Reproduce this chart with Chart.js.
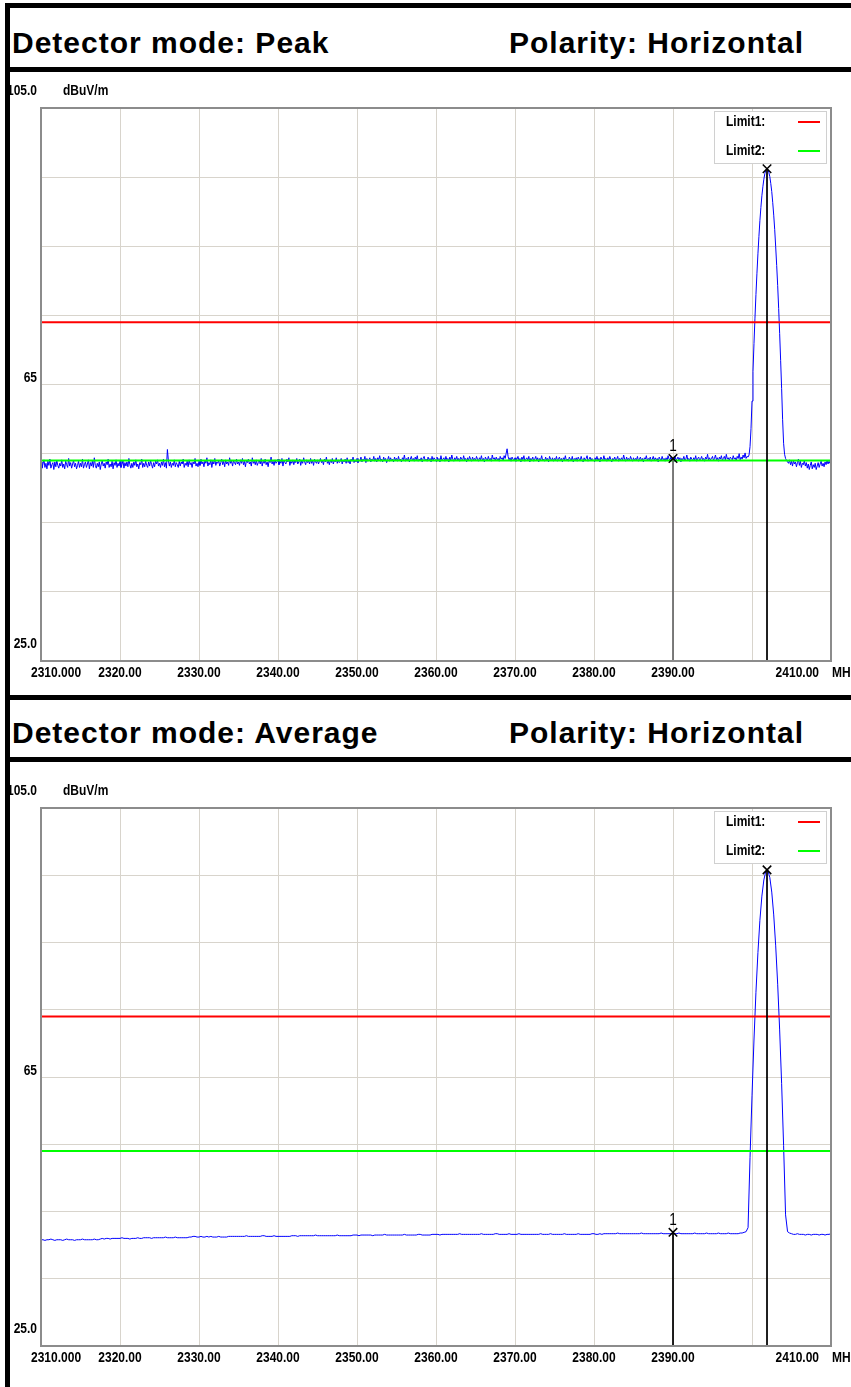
<!DOCTYPE html>
<html>
<head>
<meta charset="utf-8">
<script src="https://cdn.jsdelivr.net/npm/chart.js@4.4.1/dist/chart.umd.min.js"></script>
<style>
body { margin:0; background:#fff; width:851px; height:1387px; overflow:hidden; position:relative; }
.bar { position:absolute; background:#000; }
.head { position:absolute; font:bold 30px "Liberation Sans", Arial, sans-serif; letter-spacing:1px; line-height:30px; white-space:nowrap; color:#000; }
canvas { position:absolute; left:10px; }
</style>
</head>
<body>
<div class="bar" style="left:5px;top:3px;width:846px;height:5px"></div>
<div class="bar" style="left:5px;top:3px;width:5px;height:1384px"></div>
<div class="bar" style="left:5px;top:67px;width:846px;height:5px"></div>
<div class="bar" style="left:5px;top:695px;width:846px;height:5px"></div>
<div class="bar" style="left:5px;top:757px;width:846px;height:5px"></div>
<div class="head" style="left:12px;top:28px">Detector mode: Peak</div>
<div class="head" style="left:509px;top:28px">Polarity: Horizontal</div>
<div class="head" style="left:12px;top:718px">Detector mode: Average</div>
<div class="head" style="left:509px;top:718px">Polarity: Horizontal</div>
<canvas id="peakChart" width="841" height="623" style="top:72px"></canvas>
<canvas id="avgChart" width="841" height="625" style="top:762px"></canvas>
<script>
// both sweeps start at 2310 MHz; peak sweep every 0.125 MHz, average every 0.25 MHz
var sweepStart = 2310;
var peakStep = 0.125, avgStep = 0.25;

var peakTrace = [
  53.8, 52.9, 53.5, 54.1, 53.0, 53.6, 52.8, 53.9, 53.3, 54.2, 52.9, 53.4, 53.7, 52.7, 53.8, 53.1, 54.0, 53.3, 52.9, 53.6,
  53.2, 54.1, 53.0, 53.5, 52.8, 53.9, 53.4, 53.0, 54.3, 53.2, 53.7, 52.9, 53.5, 54.0, 53.1, 53.6, 52.8, 53.3, 53.9, 53.0,
  53.6, 53.1, 54.2, 52.9, 53.4, 53.8, 53.0, 53.5, 54.1, 52.8, 53.7, 53.2, 53.9, 53.0, 54.4, 53.3, 52.9, 53.6, 53.1, 53.8,
  52.7, 53.5, 54.0, 53.2, 53.6, 52.9, 53.8, 53.4, 54.2, 53.0, 53.5, 53.1, 53.9, 52.8, 53.7, 53.3, 54.1, 53.0, 53.6, 53.2,
  53.9, 53.0, 53.4, 54.0, 52.9, 53.7, 53.2, 53.8, 53.1, 54.3, 53.4, 52.9, 53.6, 53.0, 53.8, 53.3, 54.1, 53.1, 53.5, 52.8,
  53.7, 53.4, 54.2, 53.0, 53.6, 53.1, 53.9, 53.3, 53.0, 53.8, 53.2, 54.0, 53.4, 52.9, 53.7, 53.1, 53.9, 53.5, 54.1, 53.2,
  53.6, 53.0, 53.8, 53.3, 54.2, 53.1, 53.7, 52.9, 55.6, 54.0, 53.2, 53.8, 53.0, 53.6, 53.3, 54.1, 53.1, 53.7, 53.4, 53.0,
  53.9, 53.2, 53.8, 53.5, 54.2, 53.0, 53.6, 53.3, 53.9, 53.1, 54.1, 53.4, 53.7, 53.0, 53.8, 53.5, 54.3, 53.2, 53.6, 53.1,
  53.9, 53.3, 54.2, 53.5, 53.8, 53.1, 54.0, 53.6, 54.4, 53.2, 53.7, 53.4, 54.1, 53.0, 53.9, 53.5, 54.3, 53.3, 53.8, 53.6,
  54.0, 53.2, 53.7, 54.2, 53.4, 53.9, 53.1, 54.1, 53.5, 53.8, 53.3, 54.4, 53.6, 53.9, 53.2, 54.0, 53.7, 53.4, 54.2, 53.5,
  53.8, 53.3, 54.1, 53.6, 54.3, 53.4, 53.9, 53.1, 54.0, 53.7, 54.2, 53.5, 53.8, 53.2, 54.4, 53.6, 53.9, 53.4, 54.1, 53.3,
  53.7, 54.0, 53.5, 54.3, 53.2, 53.9, 53.6, 54.2, 53.4, 53.8, 53.1, 54.0, 53.7, 54.5, 53.5, 53.9, 53.3, 54.1, 53.6, 53.8,
  54.2, 53.4, 53.9, 53.6, 54.3, 53.2, 54.0, 53.7, 53.5, 54.2, 53.8, 54.4, 53.3, 53.9, 53.6, 54.1, 53.4, 54.0, 53.7, 54.3,
  53.5, 53.8, 54.2, 53.3, 54.0, 53.6, 54.4, 53.8, 53.4, 54.1, 53.7, 53.9, 53.5, 54.3, 53.6, 54.0, 53.3, 54.2, 53.8, 53.6,
  54.1, 53.5, 53.9, 54.3, 53.7, 54.0, 53.4, 54.2, 53.8, 54.5, 53.6, 53.9, 53.4, 54.1, 53.7, 54.3, 53.5, 54.0, 53.8, 54.4,
  53.6, 54.1, 53.7, 53.9, 54.3, 53.5, 54.0, 53.8, 54.2, 53.6, 54.4, 53.7, 54.0, 53.5, 54.2, 53.9, 54.5, 53.7, 54.1, 53.8,
  54.3, 53.7, 54.1, 53.9, 54.5, 53.8, 54.2, 54.0, 54.6, 53.7, 54.3, 53.9, 54.1, 54.4, 53.8, 54.2, 54.0, 54.6, 53.9, 54.3,
  53.8, 54.4, 54.1, 54.7, 53.9, 54.2, 53.8, 54.5, 54.0, 54.3, 53.7, 54.1, 54.6, 53.9, 54.4, 54.0, 54.2, 53.8, 54.5, 54.1,
  54.3, 53.9, 54.6, 54.0, 54.2, 53.8, 54.4, 54.1, 54.8, 53.9, 54.3, 54.0, 54.5, 53.8, 54.2, 54.6, 54.0, 54.3, 53.9, 54.5,
  54.1, 54.7, 53.9, 54.2, 54.0, 54.4, 53.8, 54.3, 54.6, 54.0, 54.2, 53.9, 54.5, 54.1, 54.3, 53.8, 54.6, 54.0, 54.4, 54.2,
  53.9, 54.5, 54.1, 54.3, 53.8, 54.7, 54.0, 54.2, 54.4, 53.9, 54.6, 54.1, 54.3, 53.8, 54.5, 54.0, 54.8, 54.2, 53.9, 54.4,
  54.1, 54.6, 54.0, 54.3, 53.9, 54.5, 54.2, 54.0, 54.7, 54.1, 54.3, 53.8, 54.4, 54.0, 54.6, 54.2, 53.9, 54.5, 54.1, 54.3,
  54.0, 54.6, 54.2, 53.9, 54.4, 54.1, 54.7, 54.0, 54.3, 53.8, 54.5, 54.2, 54.0, 54.6, 54.1, 54.3, 53.9, 54.8, 54.2, 54.4,
  54.0, 54.5, 54.1, 54.3, 53.9, 54.6, 54.2, 54.4, 54.0, 54.7, 54.3, 55.0, 55.7, 54.6, 54.1, 54.4, 53.9, 54.5, 54.2, 54.0,
  54.4, 53.9, 54.2, 54.6, 54.0, 54.3, 53.8, 54.5, 54.1, 54.7, 53.9, 54.2, 54.4, 54.0, 54.6, 53.8, 54.3, 54.1, 54.5, 53.9,
  54.2, 54.6, 54.0, 54.4, 53.8, 54.3, 54.1, 54.7, 54.0, 54.2, 53.9, 54.5, 54.1, 54.3, 53.8, 54.6, 54.2, 54.0, 54.4, 53.9,
  54.3, 54.1, 54.6, 53.9, 54.2, 54.5, 54.0, 54.3, 53.8, 54.4, 54.1, 54.7, 54.0, 54.2, 53.9, 54.5, 54.2, 54.0, 54.6, 53.8,
  54.3, 54.1, 54.4, 53.9, 54.5, 54.2, 54.0, 54.6, 54.1, 53.8, 54.4, 54.0, 54.3, 54.7, 53.9, 54.2, 54.5, 54.0, 54.3, 54.1,
  53.9, 54.4, 54.1, 54.6, 54.0, 54.3, 53.8, 54.5, 54.2, 54.0, 54.7, 54.1, 54.3, 53.9, 54.4, 54.0, 54.6, 54.2, 53.8, 54.3,
  54.1, 54.5, 54.0, 54.2, 54.6, 53.9, 54.3, 54.1, 54.4, 54.0, 54.8, 54.2, 53.9, 54.5, 54.1, 54.3, 54.0, 54.6, 54.2, 53.9,
  54.4, 54.0, 54.3, 54.1, 54.6, 53.9, 54.2, 54.5, 54.0, 54.3, 53.8, 54.4, 54.2, 54.7, 54.0, 54.3, 54.1, 54.5, 53.9, 54.2,
  54.6, 54.0, 54.4, 54.1, 54.3, 53.8, 54.5, 54.2, 54.0, 54.6, 54.1, 54.3, 53.9, 54.4, 54.0, 54.7, 54.2, 54.1, 54.5, 54.0,
  54.3, 53.9, 54.6, 54.1, 54.2, 54.5, 54.0, 54.4, 53.8, 54.3, 54.1, 54.6, 54.0, 54.2, 54.8, 54.1, 54.3, 53.9, 54.5, 54.2,
  54.0, 54.4, 54.1, 54.7, 53.9, 54.3, 54.5, 54.0, 54.2, 54.6, 54.1, 54.3, 53.9, 54.5, 54.2, 54.9, 54.0, 54.4, 54.1, 54.3,
  54.6, 54.0, 54.3, 54.8, 54.1, 54.4, 53.9, 54.5, 54.2, 54.7, 54.0, 54.3, 54.6, 54.1, 54.9, 54.2, 54.4, 54.0, 54.5, 54.3,
  54.1, 54.7, 54.2, 54.4, 54.0, 54.6, 54.3, 55.0, 54.1, 54.5, 54.2, 54.8, 54.4, 55.1, 54.3, 54.6,
  54.5, 54.8, 56.0, 58.6, 62.6, 66.9, 70.9, 74.6, 78.0, 81.1, 83.9, 86.4, 88.7, 90.6, 92.3, 93.6, 94.7, 95.5, 96.0, 96.2,
  96.1, 95.7, 95.1, 94.1, 92.9, 91.3, 89.5, 87.4, 84.9, 82.2, 79.3, 76.0, 72.4, 68.5, 64.4, 59.9, 56.5, 54.9, 54.3, 54.0, 53.8,
  53.6, 54.1, 53.4, 53.9, 53.2, 54.0, 53.5, 53.8, 53.1, 53.7, 54.2, 53.3, 53.9, 53.0, 53.6, 53.4, 54.0, 53.2, 53.7, 52.9,
  53.5, 52.7, 53.3, 53.8, 52.8, 53.4, 53.0, 53.6, 52.7, 53.2, 53.7, 53.0, 53.5, 53.9, 53.2, 53.6, 53.1, 53.8, 53.4, 54.0,
  53.5, 53.9, 53.6, 54.0
];

var avgTrace = [
  40.8, 40.8, 40.7, 40.8, 40.8, 40.9, 40.8, 40.7, 40.8, 40.8, 40.8, 40.7, 40.8, 40.9, 40.8, 40.8, 40.8, 40.7, 40.8, 40.8,
  40.8, 40.9, 40.8, 40.8, 40.8, 40.8, 40.8, 40.9, 40.8, 40.8, 40.9, 41.0, 40.9, 41.0, 41.0, 40.9, 41.0, 41.0, 41.0, 41.0,
  41.0, 41.1, 41.0, 41.0, 41.0, 40.9, 41.0, 41.0, 41.0, 41.1, 41.0, 41.0, 41.1, 41.1, 41.1, 41.1, 41.0, 41.1, 41.1, 41.1,
  41.1, 41.1, 41.1, 41.2, 41.1, 41.1, 41.1, 41.1, 41.2, 41.1, 41.1, 41.1, 41.1, 41.1, 41.1, 41.2, 41.2, 41.3, 41.3, 41.2,
  41.2, 41.3, 41.2, 41.2, 41.3, 41.2, 41.3, 41.2, 41.2, 41.2, 41.3, 41.2, 41.2, 41.2, 41.2, 41.3, 41.3, 41.3, 41.3, 41.3,
  41.3, 41.3, 41.3, 41.3, 41.4, 41.3, 41.3, 41.3, 41.3, 41.3, 41.3, 41.3, 41.4, 41.4, 41.3, 41.3, 41.3, 41.3, 41.4, 41.3,
  41.3, 41.3, 41.3, 41.3, 41.3, 41.3, 41.3, 41.4, 41.4, 41.4, 41.3, 41.4, 41.4, 41.4, 41.4, 41.4, 41.4, 41.4, 41.4, 41.5,
  41.4, 41.4, 41.4, 41.4, 41.4, 41.4, 41.4, 41.4, 41.4, 41.4, 41.5, 41.4, 41.4, 41.4, 41.4, 41.4, 41.4, 41.4, 41.5, 41.5,
  41.5, 41.4, 41.5, 41.5, 41.5, 41.5, 41.5, 41.5, 41.4, 41.5, 41.5, 41.5, 41.5, 41.5, 41.6, 41.5, 41.5, 41.5, 41.5, 41.5,
  41.5, 41.5, 41.5, 41.5, 41.6, 41.5, 41.5, 41.5, 41.5, 41.5, 41.5, 41.6, 41.6, 41.5, 41.5, 41.5, 41.5, 41.5, 41.6, 41.6,
  41.6, 41.6, 41.5, 41.6, 41.6, 41.6, 41.6, 41.6, 41.6, 41.6, 41.6, 41.6, 41.7, 41.6, 41.6, 41.6, 41.6, 41.6, 41.6, 41.6,
  41.6, 41.6, 41.6, 41.7, 41.6, 41.6, 41.6, 41.6, 41.6, 41.6, 41.7, 41.7, 41.6, 41.6, 41.6, 41.6, 41.6, 41.7, 41.6, 41.6,
  41.6, 41.6, 41.7, 41.6, 41.6, 41.6, 41.6, 41.6, 41.6, 41.6, 41.6, 41.6, 41.6, 41.7, 41.6, 41.6, 41.6, 41.6, 41.7, 41.6,
  41.6, 41.6, 41.6, 41.6, 41.6, 41.7, 41.6, 41.6, 41.6, 41.6, 41.6, 41.6, 41.7, 41.6, 41.6, 41.6, 41.6, 41.6, 41.6, 41.7,
  41.7, 41.6, 41.6, 41.7, 41.6, 41.7, 41.7, 41.7, 41.7, 41.7, 41.7, 41.7, 41.8, 41.7, 41.7, 41.7, 41.7, 41.7, 41.7, 41.7,
  41.7, 41.7, 41.7, 41.7, 41.8, 41.7, 41.7, 41.7, 41.7, 41.7, 41.7, 41.7, 41.7, 41.7, 41.8, 41.7, 41.7, 41.7, 41.7, 41.7,
  41.7, 41.7, 41.7, 41.8, 41.7, 41.7, 41.7, 41.7, 41.7, 41.7, 41.7, 41.8, 41.7, 41.7, 41.7, 41.7, 41.7, 41.8, 41.7, 41.7,
  41.7, 41.7, 41.7, 41.8, 41.7, 41.7, 41.7, 41.7, 41.8, 41.7, 41.7, 41.7, 41.7, 41.7, 41.8, 41.8, 41.9, 42.0,
  42.6, 53.0, 62.2, 70.5, 77.6, 83.5, 88.3, 91.9, 94.3, 95.6, 95.7, 94.7, 92.5, 89.1, 84.5, 78.8, 72.0, 64.0, 54.8, 44.5, 42.0,
  41.8, 41.7, 41.6, 41.6, 41.7, 41.6, 41.6, 41.6, 41.5, 41.6, 41.6, 41.5, 41.6, 41.6, 41.6, 41.5, 41.6, 41.6, 41.5, 41.6, 41.6, 41.7
];

var limitNames = ['Limit1:', 'Limit2:'];
var limitLevels = [74, 54];
var limitColors = ['#ff0000', '#00ff00'];

var markerNames = ['1', ''];
var markerFreqs = [2390.0, 2401.9];
var peakMarkerLevels = [54.3, 96.2];
var avgMarkerLevels = [41.9, 95.8];

var xTicks = [2310, 2320, 2330, 2340, 2350, 2360, 2370, 2380, 2390, 2400, 2410];
var xTickLabels = ['2310.000', '2320.00', '2330.00', '2340.00', '2350.00', '2360.00', '2370.00', '2380.00', '2390.00', '', '2410.00'];
var yTicks = [105, 65, 25];
var yTickLabels = ['105.0', '65', '25.0'];
var yUnit = 'dBuV/m', xUnit = 'MHz';

var SMALL = 'bold 15px "Liberation Sans", Arial, sans-serif';
var GRID = '#d8d4cc';

// analyzer fonts are tall and narrow: squeeze Liberation Sans sideways
function narrowText(ctx, text, x, y) {
  ctx.save();
  ctx.translate(x, y);
  ctx.scale(0.8, 1);
  ctx.fillText(text, 0, 0);
  ctx.restore();
}

var scopePlugin = {
  id: 'scope',
  afterDraw: function(chart) {
    var ctx = chart.ctx, a = chart.chartArea, xs = chart.scales.x, ys = chart.scales.y;
    var opts = chart.options.plugins.scope;
    ctx.save();
    // plot frame
    ctx.strokeStyle = '#8c8c8c';
    ctx.lineWidth = 2;
    ctx.strokeRect(a.left, a.top, a.right - a.left, a.bottom - a.top);

    ctx.fillStyle = '#000';
    ctx.font = SMALL;
    // y labels
    ctx.textAlign = 'right';
    ctx.textBaseline = 'bottom';
    for (var i = 0; i < yTicks.length; i++) {
      var py = ys.getPixelForValue(yTicks[i]);
      var off = (yTicks[i] == ys.max || yTicks[i] == ys.min) ? -10 : 1;
      narrowText(ctx, yTickLabels[i], a.left - 4, py + off);
    }
    ctx.textAlign = 'left';
    narrowText(ctx, yUnit, a.left + 22, ys.getPixelForValue(ys.max) - 10);

    // x labels
    ctx.textBaseline = 'middle';
    var ly = a.bottom + 12;
    for (var j = 0; j < xTicks.length; j++) {
      var px = xs.getPixelForValue(xTicks[j]);
      if (j == 0) { ctx.textAlign = 'left'; narrowText(ctx, xTickLabels[j], px - 10, ly); }
      else if (j == xTicks.length - 1) { ctx.textAlign = 'right'; narrowText(ctx, xTickLabels[j], px - 12, ly); }
      else { ctx.textAlign = 'center'; narrowText(ctx, xTickLabels[j], px, ly); }
    }
    ctx.textAlign = 'left';
    narrowText(ctx, xUnit, a.right + 1, ly);

    // marker numbers, peak marker bar
    ctx.font = '17px "Liberation Sans", Arial, sans-serif';
    ctx.textAlign = 'center';
    ctx.textBaseline = 'bottom';
    for (var m = 0; m < markerFreqs.length; m++) {
      var mx = xs.getPixelForValue(markerFreqs[m]), my = ys.getPixelForValue(opts.markerLevels[m]);
      if (markerNames[m]) narrowText(ctx, markerNames[m], mx, my - 4);
      else if (opts.peakBar) {
        ctx.strokeStyle = '#000';
        ctx.lineWidth = 1;
        ctx.beginPath();
        ctx.moveTo(mx - 4, my - 7.5);
        ctx.lineTo(mx + 4, my - 7.5);
        ctx.stroke();
      }
    }

    // legend box
    var bx = a.right - 117, by = a.top + 3, bw = 112, bh = 52;
    ctx.fillStyle = '#fff';
    ctx.fillRect(bx, by, bw, bh);
    ctx.strokeStyle = '#d0d0d0';
    ctx.lineWidth = 1;
    ctx.strokeRect(bx + 0.5, by + 0.5, bw, bh);
    ctx.font = SMALL;
    ctx.textAlign = 'left';
    ctx.textBaseline = 'middle';
    for (var k = 0; k < limitNames.length; k++) {
      var ry = by + 11 + k * 29;
      ctx.fillStyle = '#000';
      narrowText(ctx, limitNames[k], bx + 12, ry);
      ctx.strokeStyle = limitColors[k];
      ctx.lineWidth = 2;
      ctx.beginPath();
      ctx.moveTo(bx + 84, ry);
      ctx.lineTo(bx + 106, ry);
      ctx.stroke();
    }
    ctx.restore();
  }
};

function makeChart(id, trace, step, markerLevels, markerLineColors, peakBar, pad) {
  var pts = trace.map(function(v, i) { return { x: sweepStart + i * step, y: v }; });
  var datasets = [];
  for (var i = 0; i < limitLevels.length; i++) {
    datasets.push({
      label: limitNames[i],
      data: [{ x: xTicks[0], y: limitLevels[i] }, { x: xTicks[xTicks.length - 1], y: limitLevels[i] }],
      borderColor: limitColors[i], borderWidth: 2, pointRadius: 0, order: 1
    });
  }
  datasets.push({ label: 'trace', data: pts, borderColor: '#0000ff', borderWidth: 1, pointRadius: 0, order: 2 });
  for (var m = 0; m < markerFreqs.length; m++) {
    datasets.push({
      label: 'marker' + m,
      data: [{ x: markerFreqs[m], y: markerLevels[m] }, { x: markerFreqs[m], y: 25 }],
      borderColor: markerLineColors[m], borderWidth: 1,
      pointStyle: 'crossRot', pointRadius: [6, 0], pointBorderColor: '#000', pointBorderWidth: 1.5,
      order: 0
    });
  }

  new Chart(document.getElementById(id), {
    type: 'line',
    data: { datasets: datasets },
    options: {
      responsive: false,
      animation: false,
      devicePixelRatio: 1,
      layout: { padding: pad },
      plugins: {
        legend: { display: false },
        tooltip: { enabled: false },
        scope: { markerLevels: markerLevels, peakBar: peakBar }
      },
      scales: {
        x: {
          type: 'linear', min: 2310, max: 2410,
          afterFit: function(s) { s.height = 0; },
          ticks: { display: false, stepSize: 10 },
          grid: { color: GRID, drawTicks: false },
          border: { display: false }
        },
        y: {
          min: 25, max: 105,
          afterFit: function(s) { s.width = 0; },
          ticks: { display: false, stepSize: 10 },
          grid: { color: GRID, drawTicks: false },
          border: { display: false }
        }
      }
    },
    plugins: [scopePlugin]
  });
}

makeChart('peakChart', peakTrace, peakStep, peakMarkerLevels, ['#6a6a6a', '#000'], false, { left: 31, right: 20, top: 36, bottom: 34 });
makeChart('avgChart', avgTrace, avgStep, avgMarkerLevels, ['#000', '#000'], true, { left: 31, right: 20, top: 46, bottom: 41 });
</script>
</body>
</html>
